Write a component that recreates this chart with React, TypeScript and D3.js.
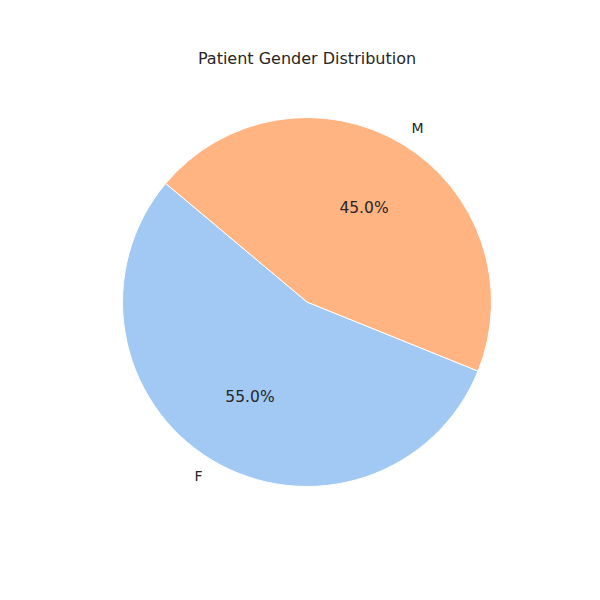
import React from "react";
import * as d3 from "d3";

const categories = ["F", "M"];
const values = [55, 45];
const colors = ["#a1c9f4", "#ffb482"];
const startAngle = 140;

export default function App() {
  const cx = 307, cy = 302, r = 184.5;
  const total = d3.sum(values);
  let a = startAngle;
  const slices = values.map((v, i) => {
    const a0 = a;
    const a1 = a + (v / total) * 360;
    a = a1;
    return { i, a0, a1 };
  });
  const pt = (deg: number, rr: number) => [cx + rr * Math.cos((deg * Math.PI) / 180), cy - rr * Math.sin((deg * Math.PI) / 180)];
  // d3.arc uses clockwise from 12 o'clock; convert
  const arc = d3.arc<any>().innerRadius(0).outerRadius(r);
  return (
    <svg width={600} height={600} style={{ position: "absolute", left: 0, top: 0, fontFamily: "DejaVu Sans" }}>
      <rect width={600} height={600} fill="#fff" />
      <text x={307} y={64} textAnchor="middle" fontSize={16} fill="#262626">Patient Gender Distribution</text>
      {slices.map((s) => {
        const path = arc({ startAngle: ((90 - s.a1) * Math.PI) / 180, endAngle: ((90 - s.a0) * Math.PI) / 180 })!;
        const mid = (s.a0 + s.a1) / 2;
        const [lx, ly] = pt(mid, r * 1.1);
        const [px, py] = pt(mid, r * 0.6);
        const cosm = Math.cos((mid * Math.PI) / 180);
        return (
          <g key={s.i}>
            <path d={path} transform={`translate(${cx},${cy})`} fill={colors[s.i]} stroke="#fff" strokeWidth={1} />
            <text x={lx} y={ly} dy="0.35em" textAnchor={cosm < 0 ? "end" : "start"} fontSize={14} fill="#262626">{categories[s.i]}</text>
            <text x={px} y={py} dy="0.35em" textAnchor="middle" fontSize={15.5} fill="#262626">{values[s.i].toFixed(1)}%</text>
          </g>
        );
      })}
    </svg>
  );
}
